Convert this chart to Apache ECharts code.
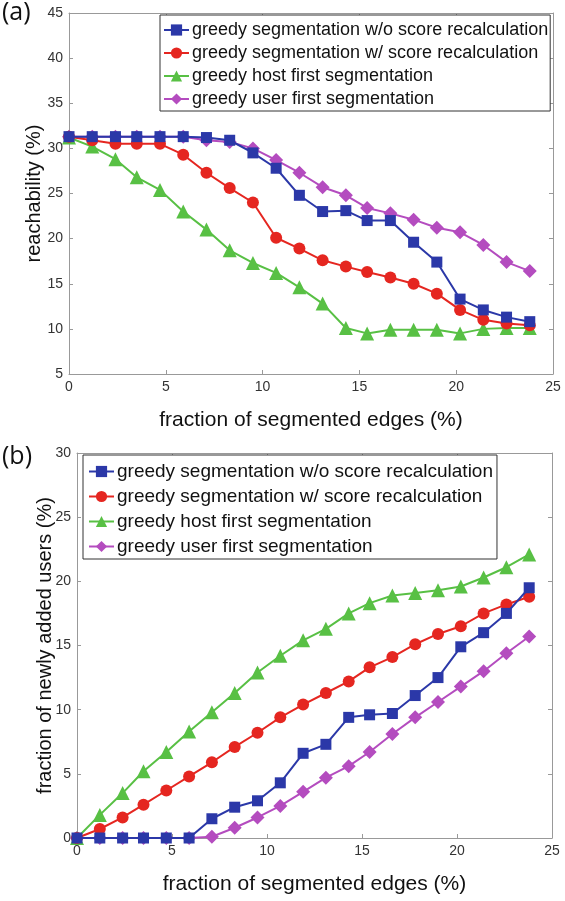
<!DOCTYPE html>
<html>
<head>
<meta charset="utf-8">
<script src="https://cdn.jsdelivr.net/npm/echarts@6/dist/echarts.min.js"></script>
<style>
  html, body { margin: 0; padding: 0; background: #fff; }
  #main { width: 565px; height: 901px; }
</style>
</head>
<body>
<div id="main"></div>
<script>
// fraction of segmented edges (%)
var xs = [0, 1.2, 2.4, 3.5, 4.7, 5.9, 7.1, 8.3, 9.5, 10.7, 11.9, 13.1, 14.3, 15.4, 16.6, 17.8, 19.0, 20.2, 21.4, 22.6, 23.8];

var names = [
    'greedy segmentation w/o score recalculation',
    'greedy segmentation w/ score recalculation',
    'greedy host first segmentation',
    'greedy user first segmentation'
];

// (a) reachability (%)
var reachNoRecalc = [31.3, 31.3, 31.3, 31.3, 31.3, 31.3, 31.2, 30.9, 29.5, 27.8, 24.8, 23.0, 23.1, 22.0, 22.0, 19.6, 17.4, 13.3, 12.1, 11.3, 10.8];
var reachRecalc   = [31.3, 30.9, 30.5, 30.5, 30.5, 29.3, 27.3, 25.6, 24.0, 20.1, 18.9, 17.6, 16.9, 16.3, 15.7, 15.0, 13.9, 12.1, 11.0, 10.6, 10.4];
var reachHost     = [31.2, 30.2, 28.8, 26.8, 25.4, 23.0, 21.0, 18.7, 17.3, 16.2, 14.6, 12.8, 10.1, 9.5, 9.9, 9.9, 9.9, 9.5, 10.0, 10.1, 10.1];
var reachUser     = [31.3, 31.3, 31.3, 31.3, 31.3, 31.3, 30.9, 30.7, 30.0, 28.7, 27.3, 25.7, 24.8, 23.4, 22.8, 22.1, 21.2, 20.7, 19.3, 17.4, 16.4];

// (b) fraction of newly added users (%)
var addNoRecalc = [0, 0, 0, 0, 0, 0, 1.5, 2.4, 2.9, 4.3, 6.6, 7.3, 9.4, 9.6, 9.7, 11.1, 12.5, 14.9, 16.0, 17.5, 19.5];
var addRecalc   = [0, 0.7, 1.6, 2.6, 3.7, 4.8, 5.9, 7.1, 8.2, 9.4, 10.4, 11.3, 12.2, 13.3, 14.1, 15.1, 15.9, 16.5, 17.5, 18.2, 18.8];
var addHost     = [0, 1.8, 3.5, 5.2, 6.7, 8.3, 9.8, 11.3, 12.9, 14.2, 15.4, 16.3, 17.5, 18.3, 18.9, 19.1, 19.3, 19.6, 20.3, 21.1, 22.1];
var addUser     = [0, 0, 0, 0, 0, 0, 0.1, 0.8, 1.6, 2.5, 3.6, 4.7, 5.6, 6.7, 8.1, 9.4, 10.6, 11.8, 13.0, 14.4, 15.7];

var colors = ['#2b38a8', '#e52620', '#58c044', '#b44cbf'];
var symbols = ['rect', 'circle', 'triangle', 'diamond'];
var symbolSizes = [11, 12, 14, 14];

var FONT = "'Liberation Sans', Arial, Helvetica, sans-serif";
var AXIS_GRAY = '#999';

function pairs(vals) {
    return vals.map(function (v, i) { return [xs[i], v]; });
}

function makeSeries(vals, k, gi) {
    return {
        name: names[k],
        type: 'line',
        xAxisIndex: gi * 2,
        yAxisIndex: gi * 2,
        data: pairs(vals),
        symbol: symbols[k],
        symbolSize: symbolSizes[k],
        showAllSymbol: true,
        color: colors[k],
        lineStyle: { width: 2, color: colors[k] },
        itemStyle: { color: colors[k] },
        z: 3 + (3 - k),
        animation: false
    };
}

function mainX(gi, name) {
    return {
        type: 'value', gridIndex: gi, min: 0, max: 25, interval: 5,
        name: name, nameLocation: 'middle', nameGap: 36, nameMoveOverlap: false,
        nameTextStyle: { fontFamily: FONT, fontSize: 21, color: '#111' },
        axisLine: { onZero: false, lineStyle: { color: AXIS_GRAY } },
        axisTick: { inside: true, length: 4, lineStyle: { color: AXIS_GRAY } },
        axisLabel: { fontFamily: FONT, fontSize: 14, color: '#333', margin: 6 },
        splitLine: { show: false }
    };
}
function boxX(gi) {
    return {
        type: 'value', gridIndex: gi, min: 0, max: 25, interval: 5, position: 'top',
        axisLine: { onZero: false, lineStyle: { color: AXIS_GRAY } },
        axisTick: { inside: true, length: 4, lineStyle: { color: AXIS_GRAY } },
        axisLabel: { show: false }, splitLine: { show: false }
    };
}
function mainY(gi, min, max, name, gap) {
    return {
        type: 'value', gridIndex: gi, min: min, max: max, interval: 5,
        name: name, nameLocation: 'middle', nameGap: gap, nameMoveOverlap: false,
        nameTextStyle: { fontFamily: FONT, fontSize: 20, color: '#111' },
        axisLine: { show: true, onZero: false, lineStyle: { color: AXIS_GRAY } },
        axisTick: { show: true, inside: true, length: 4, lineStyle: { color: AXIS_GRAY } },
        axisLabel: { fontFamily: FONT, fontSize: 14, color: '#333', margin: 6 },
        splitLine: { show: false }
    };
}
function boxY(gi, min, max) {
    return {
        type: 'value', gridIndex: gi, min: min, max: max, interval: 5, position: 'right',
        axisLine: { show: true, onZero: false, lineStyle: { color: AXIS_GRAY } },
        axisTick: { show: true, inside: true, length: 4, lineStyle: { color: AXIS_GRAY } },
        axisLabel: { show: false }, splitLine: { show: false }
    };
}

var myChart = echarts.init(document.getElementById('main'));

var option = {
    backgroundColor: '#fff',
    animation: false,
    grid: [
        { left: 69, top: 13, width: 484, height: 361 },
        { left: 77, top: 453, width: 475, height: 385 }
    ],
    xAxis: [
        mainX(0, 'fraction of segmented edges (%)'), boxX(0),
        mainX(1, 'fraction of segmented edges (%)'), boxX(1)
    ],
    yAxis: [
        mainY(0, 5, 45, 'reachability (%)', 25), boxY(0, 5, 45),
        mainY(1, 0, 30, 'fraction of newly added users (%)', 22), boxY(1, 0, 30)
    ],
    legend: [
        {
            orient: 'vertical', left: 160, top: 15,
            itemWidth: 25, itemHeight: 14, itemGap: 5,
            padding: [6, 2, 3, 3],
            backgroundColor: '#fff', borderColor: '#333', borderWidth: 1,
            textStyle: { fontFamily: FONT, fontSize: 18, color: '#111', padding: [0, 0, 0, -2] },
            data: names
        },
        {
            orient: 'vertical', left: 83, top: 455,
            itemWidth: 25, itemHeight: 14, itemGap: 6,
            padding: [7, 4, 3, 5],
            backgroundColor: '#fff', borderColor: '#333', borderWidth: 1,
            textStyle: { fontFamily: FONT, fontSize: 19, color: '#111', padding: [0, 0, 0, -2] },
            data: names
        }
    ],
    graphic: [
        { type: 'text', left: 2, top: 0, style: { text: '(a)', font: "25px 'Open Sans', sans-serif", fill: '#111' } },
        { type: 'text', left: 2, top: 444, style: { text: '(b)', font: "25px 'Open Sans', sans-serif", fill: '#111' } }
    ],
    series: [
        makeSeries(reachNoRecalc, 0, 0),
        makeSeries(reachRecalc, 1, 0),
        makeSeries(reachHost, 2, 0),
        makeSeries(reachUser, 3, 0),
        makeSeries(addNoRecalc, 0, 1),
        makeSeries(addRecalc, 1, 1),
        makeSeries(addHost, 2, 1),
        makeSeries(addUser, 3, 1)
    ]
};

myChart.setOption(option);
</script>
</body>
</html>
